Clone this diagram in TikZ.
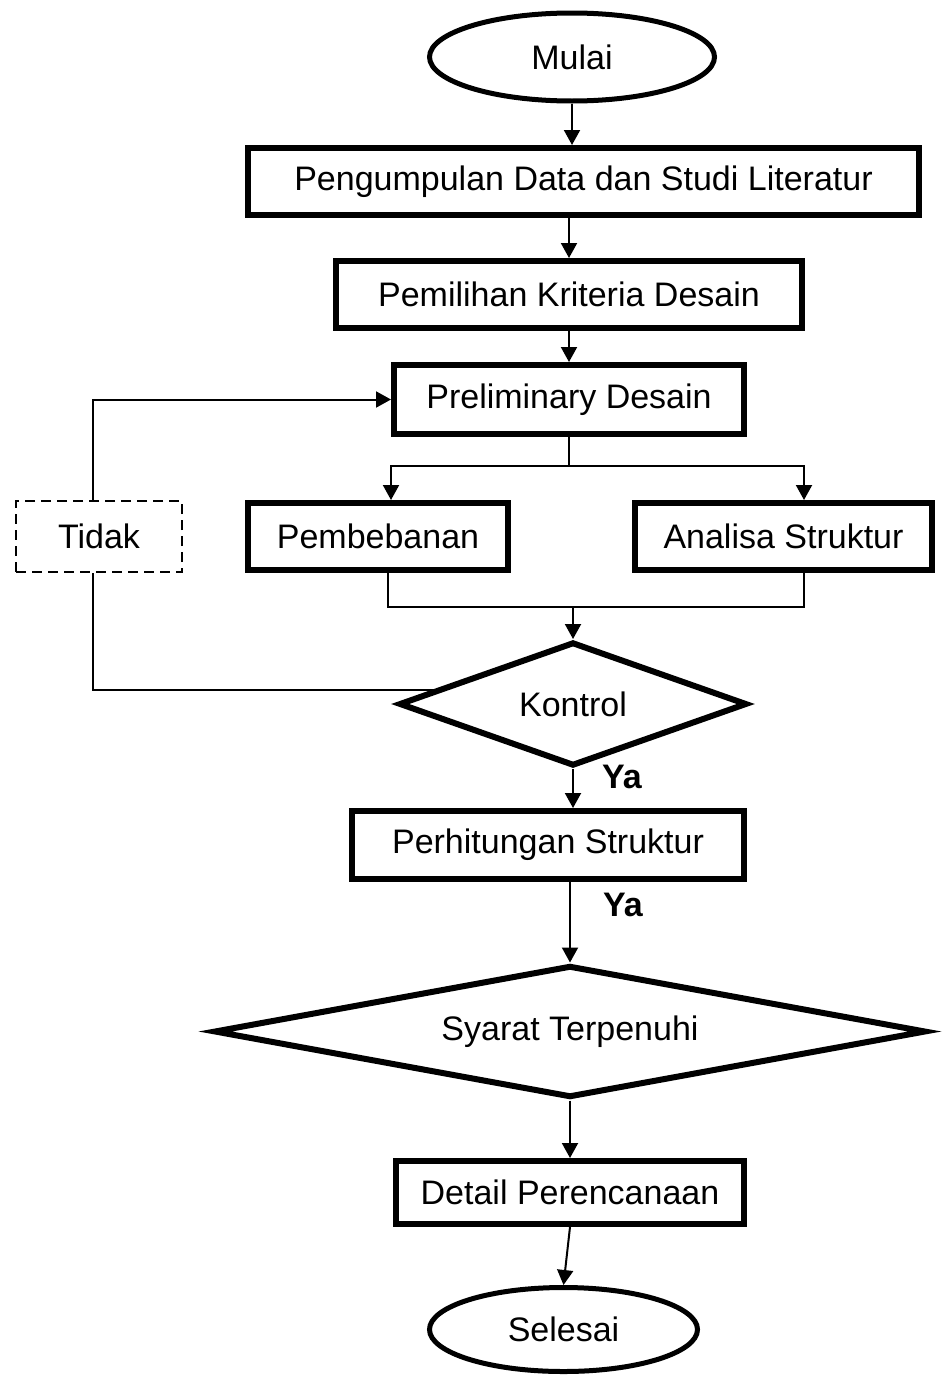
\documentclass[tikz,border=0pt]{standalone}
\usepackage{fontspec}
\setmainfont{Liberation Sans}
\usetikzlibrary{shapes.geometric,arrows.meta}
\begin{document}
\begin{tikzpicture}[x=0.5pt,y=-0.5pt,
  font=\fontsize{17}{20}\selectfont,
  box/.style={draw, rectangle, line width=3pt, inner sep=0pt},
  term/.style={draw, ellipse, line width=2.5pt, inner sep=0pt},
  dec/.style={draw, diamond, line width=3pt, inner sep=0pt},
  dbox/.style={draw, rectangle, line width=1.2pt, dash pattern=on 5pt off 3pt, inner sep=0pt},
  conn/.style={line width=1pt},
  arr/.style={conn, -{Triangle[length=7.5pt,width=8pt]}},
  lab/.style={font=\fontsize{17}{20}\selectfont\bfseries}]
\useasboundingbox (0,0) rectangle (943,1376);

\node[term, minimum width=142.5pt, minimum height=44pt] (mulai) at (572,57) {Mulai};
\node[box, minimum width=335.5pt, minimum height=33.5pt] (peng) at (583.5,181.5) {Pengumpulan Data dan Studi Literatur};
\node[box, minimum width=233pt, minimum height=33.5pt] (pemil) at (569,294.5) {Pemilihan Kriteria Desain};
\node[box, minimum width=175pt, minimum height=34.5pt] (prelim) at (569,399.5) {Preliminary Desain};
\node[box, minimum width=130pt, minimum height=33.5pt] (pemb) at (378,536.5) {Pembebanan};
\node[box, minimum width=148.5pt, minimum height=33.5pt] (anal) at (783.5,536.5) {Analisa Struktur};
\node[dbox, minimum width=83pt, minimum height=35.5pt] (tidak) at (99,536.5) {Tidak};
\node[dec, shape aspect=2.8, minimum width=174pt, minimum height=62pt] (kontrol) at (573,704) {Kontrol};
\node[box, minimum width=196pt, minimum height=34pt] (perhit) at (548,845) {Perhitungan Struktur};
\node[dec, shape aspect=5.4, minimum width=356pt, minimum height=66pt] (syarat) at (570,1031.5) {Syarat Terpenuhi};
\node[box, minimum width=174pt, minimum height=31.5pt] (detail) at (570,1192.5) {Detail Perencanaan};
\node[term, minimum width=134pt, minimum height=42pt] (selesai) at (563.5,1329.5) {Selesai};

\node[lab] (ya1) at (622,777) {Ya};
\node[lab] (ya2) at (623,905) {Ya};

% main flow
\draw[arr] (mulai.south) -- (mulai.south |- peng.north);
\draw[arr] (pemil.north |- peng.south) -- (pemil.north);
\draw[arr] (prelim.north |- pemil.south) -- (prelim.north);

% branch
\coordinate (br) at (569,466);
\coordinate (pa) at ([xshift=6.5pt]pemb.north);
\coordinate (aa) at ([xshift=10.25pt]anal.north);
\draw[conn] (prelim.south) -- (br);
\draw[arr] (br) -| (pa);
\draw[arr] (br) -| (aa);

% merge
\coordinate (mrg) at (573,607);
\coordinate (pb) at ([xshift=5pt]pemb.south);
\coordinate (ab) at ([xshift=10.25pt]anal.south);
\draw[conn] (pb) |- (ab |- mrg) -- (ab);
\draw[arr] (mrg) -- (kontrol.north);

% loop back via Tidak
\coordinate (tb) at ([xshift=-3pt]tidak.south);
\coordinate (tt) at ([xshift=-3pt]tidak.north);
\draw[conn] (kontrol.174) -| (tb);
\draw[arr] (tt) |- (prelim.west);

% lower flow
\draw[arr] (kontrol.south) -- (kontrol.south |- perhit.north);
\draw[arr] (syarat.north |- perhit.south) -- (syarat.north);
\draw[arr] (syarat.south) -- (syarat.south |- detail.north);
\draw[arr] (detail.south) -- (selesai.north);
\end{tikzpicture}
\end{document}
